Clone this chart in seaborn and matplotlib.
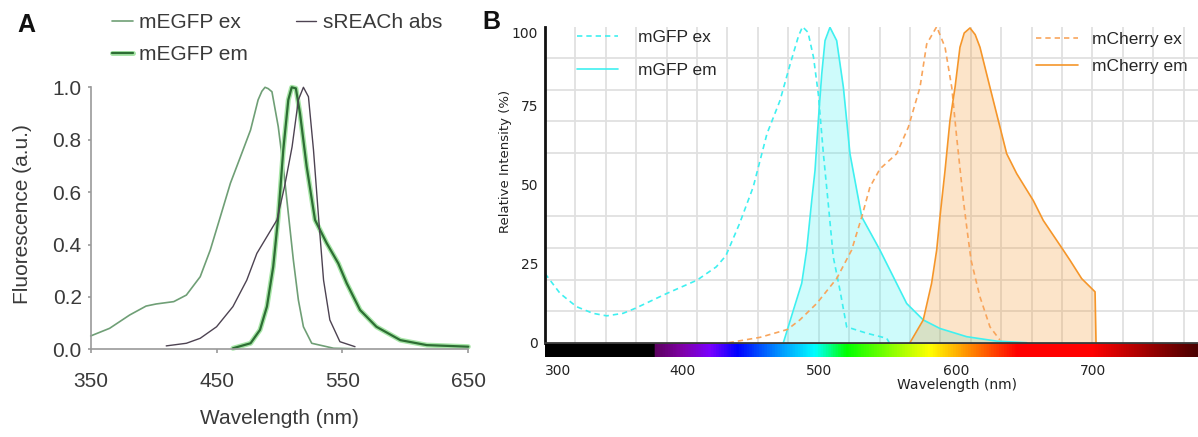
import numpy as np
import matplotlib
matplotlib.use("Agg")
import matplotlib.pyplot as plt
import matplotlib.patheffects as pe
from matplotlib.colors import LinearSegmentedColormap
import seaborn as sns

# ---- panel A data ----
mEGFP_ex_nm = [350, 365, 381, 394, 402, 416, 426, 437, 445, 453, 461, 469, 477, 483,
               486, 488.5, 491, 494, 499, 503, 507, 511, 515, 519, 525.6, 543, 560]
mEGFP_ex = [0.051, 0.08, 0.131, 0.165, 0.173, 0.182, 0.207, 0.277, 0.379, 0.506, 0.634,
            0.735, 0.837, 0.952, 0.985, 1.0, 0.995, 0.983, 0.85, 0.697, 0.519, 0.341,
            0.188, 0.086, 0.023, 0.004, 0.002]

mEGFP_em_nm = [463, 477, 484.5, 490, 495, 499, 503, 507, 509.7, 513, 516.3, 521.6, 528.2,
               537.5, 546.7, 553.4, 564, 577, 596, 617, 650]
mEGFP_em = [0.004, 0.023, 0.074, 0.163, 0.315, 0.506, 0.761, 0.952, 1.0, 0.996, 0.9, 0.697,
            0.494, 0.405, 0.328, 0.252, 0.15, 0.086, 0.035, 0.016, 0.01]

sREACh_nm = [410, 426, 437, 450, 463, 474, 482, 490, 498, 504, 510, 515, 519, 523, 527,
             531, 535, 540, 548, 560]
sREACh_abs = [0.013, 0.023, 0.042, 0.086, 0.163, 0.264, 0.366, 0.43, 0.494, 0.621, 0.773,
              0.952, 1.0, 0.964, 0.761, 0.506, 0.264, 0.112, 0.029, 0.01]

# ---- panel B data ----
mGFP_ex_nm = [300, 311, 323, 335, 345, 357, 366, 389, 411, 425, 432, 442, 452, 462, 471.5,
              479, 485, 488, 492, 496, 499.5, 503.2, 507, 510.4, 515.3, 520.2, 534.8, 549.4, 551.3]
mGFP_ex = [21.9, 15.6, 11.4, 9.3, 8.5, 9.3, 10.9, 15.6, 19.8, 24, 27.5, 37.7, 49.3, 66.1, 76.6,
           88.2, 97, 100, 98.2, 90.3, 78.7, 59.8, 42.9, 27.2, 16.6, 5.0, 3.0, 1.4, 0]

mGFP_em_nm = [474, 481.3, 487.4, 491, 494.7, 497.1, 499.5, 502, 504.4, 508, 512.9, 517.8,
              522.6, 531.2, 544.5, 564, 576.1, 588.3, 607.8, 629.7, 651.6]
mGFP_em = [0, 10.3, 18.8, 29.3, 45, 54.5, 70.3, 85, 95.6, 99.8, 95.6, 80.8, 59.8, 39.8, 29.3,
           12.4, 7.2, 4.5, 1.9, 0.5, 0]

mCherry_ex_nm = [434, 457, 471.5, 477, 486, 498.3, 512.9, 523.8, 531.2, 537.2, 544.5, 556.7,
                 565.2, 573.7, 578.6, 585.9, 592, 596.9, 600.5, 605.4, 608, 611, 617.5, 624.8, 632]
mCherry_ex = [0, 1.7, 3.5, 4.2, 7.2, 12.4, 20.3, 29.3, 39.8, 49.3, 55, 59.8, 68.2, 80.8, 94.5,
              100, 93.5, 80.8, 65, 45, 36, 26.1, 14.5, 5, 0.9]

mCherry_em_nm = [566.4, 576.1, 582.2, 585.9, 588.3, 592, 595.6, 599.3, 602.9, 606, 610.2, 614,
                 617.5, 624.8, 637, 644.3, 656.4, 663.7, 678.3, 683.2, 691.7, 701.5, 702.2]
mCherry_em = [0, 7.2, 18.8, 29.3, 39.8, 54.5, 70.3, 80.8, 93.5, 98, 99.6, 97.5, 93.5, 80.8,
              59.8, 53.5, 45, 38.7, 29.3, 26.1, 20.3, 16.1, 0]

# colour stops of the spectrum strip under panel B
spec_nm = [300, 379.5, 380, 400, 420, 440, 470, 497, 520, 581, 645, 700, 777]
spec_colors = ["#000000", "#000000", "#5c0060", "#8000a8", "#7a00ff", "#0000ff", "#0090ff",
               "#00ffff", "#00ff00", "#ffff00", "#ff0000", "#ff0000", "#4a0000"]

a_xticks = [350, 450, 550, 650]
a_yticks = [0.0, 0.2, 0.4, 0.6, 0.8, 1.0]
b_xticks = [300, 400, 500, 600, 700]
b_yticks = [0, 25, 50, 75, 100]

sns.set_theme(style="white")
W, H = 1198, 437
fig = plt.figure(figsize=(W / 100, H / 100), dpi=100)

def fx(px):
    return px / W

def fy(py):
    return 1 - py / H

ARIAL = "Liberation Sans"
GRAY_TXT = "#3a3a3a"

# ================= panel A =================
axA = fig.add_axes([fx(90.7), fy(349.3), (468.3 - 90.7) / W, 262 / H])
sns.lineplot(x=mEGFP_ex_nm, y=mEGFP_ex, ax=axA, color="#6f9f76", lw=1.2,
             estimator=None, label="mEGFP ex", clip_on=False)
h_ex = axA.lines[-1]
sns.lineplot(x=mEGFP_em_nm, y=mEGFP_em, ax=axA, color="#2d6e34", lw=1.6,
             estimator=None, label="mEGFP em", clip_on=False,
             path_effects=[pe.Stroke(linewidth=3.6, foreground="#a8e6a8"), pe.Normal()])
h_em = axA.lines[-1]
sns.lineplot(x=sREACh_nm, y=sREACh_abs, ax=axA, color="#4d4352", lw=1.0,
             estimator=None, label="sREACh abs", clip_on=False)
h_abs = axA.lines[-1]

axA.set_xlim(350, 650)
axA.set_ylim(0, 1.0)
axA.set_xticks(a_xticks)
axA.set_yticks(a_yticks)
axA.set_yticklabels([f"{v:.1f}" for v in a_yticks])
for s in ["top", "right"]:
    axA.spines[s].set_visible(False)
for s in ["left", "bottom"]:
    axA.spines[s].set_color("#9a9a9a")
    axA.spines[s].set_linewidth(1.2)
axA.spines["left"].set_bounds(0, 1)
axA.spines["bottom"].set_bounds(350, 650)
axA.tick_params(axis="x", length=3, width=1.2, color="#9a9a9a", pad=13,
                labelsize=15, labelcolor=GRAY_TXT)
axA.tick_params(axis="y", length=2.5, width=1.2, color="#9a9a9a", pad=4,
                labelsize=15, labelcolor=GRAY_TXT)
axA.tick_params(left=True, bottom=True)
for lbl in axA.get_xticklabels() + axA.get_yticklabels():
    lbl.set_family(ARIAL)
axA.set_xlabel("Wavelength (nm)", fontsize=15, family=ARIAL, color=GRAY_TXT, va="center")
axA.xaxis.set_label_coords(0.5, -0.266)
axA.set_ylabel("Fluorescence (a.u.)", fontsize=15, family=ARIAL, color=GRAY_TXT, va="center")
axA.yaxis.set_label_coords(-0.181, 0.516)
axA.grid(False)
axA.legend_.remove()
legA = fig.legend(handles=[h_ex, h_em, h_abs], labels=["mEGFP ex", "mEGFP em", "sREACh abs"],
                  ncol=2, loc="upper left", bbox_to_anchor=(fx(111.7), fy(13)),
                  frameon=False, borderpad=0, borderaxespad=0, handlelength=1.0,
                  handletextpad=0.3, columnspacing=2.3, labelspacing=0.62,
                  prop={"family": ARIAL, "size": 15})
for t in legA.get_texts():
    t.set_color(GRAY_TXT)

# ================= panel B =================
xmax_b = 300 + (W - 545) / 1.37
axB = fig.add_axes([fx(545), fy(342.7), (W - 545) / W, 316 / H])
CYAN = "#3ff0f0"
ORANGE = "#f5962a"
ORANGE_L = "#f8a55c"
dash = (0, (3.2, 2.4))

axB.fill_between(mGFP_em_nm, mGFP_em, color=CYAN, alpha=0.25, lw=0)
axB.fill_between(mCherry_em_nm, mCherry_em, color=ORANGE, alpha=0.25, lw=0)
sns.lineplot(x=mGFP_ex_nm, y=mGFP_ex, ax=axB, color=CYAN, lw=1.2, linestyle=dash,
             estimator=None, label="mGFP ex")
hb1 = axB.lines[-1]
sns.lineplot(x=mGFP_em_nm, y=mGFP_em, ax=axB, color=CYAN, lw=1.2,
             estimator=None, label="mGFP em")
hb2 = axB.lines[-1]
sns.lineplot(x=mCherry_ex_nm, y=mCherry_ex, ax=axB, color=ORANGE_L, lw=1.2, linestyle=dash,
             estimator=None, label="mCherry ex")
hb3 = axB.lines[-1]
sns.lineplot(x=mCherry_em_nm, y=mCherry_em, ax=axB, color=ORANGE, lw=1.2,
             estimator=None, label="mCherry em")
hb4 = axB.lines[-1]
axB.legend_.remove()

axB.set_xlim(300, xmax_b)
axB.set_ylim(0, 100)
axB.set_xticks(b_xticks)
axB.set_xticklabels([str(v) for v in b_xticks])
axB.set_yticks(b_yticks)
axB.set_yticklabels([str(v) for v in b_yticks])
axB.set_xticks(np.arange(300 + 22.2, xmax_b, 22.2), minor=True)
axB.set_yticks(np.arange(10, 101, 10), minor=True)
axB.grid(False)
axB.grid(which="minor", color="#e0e0e0", lw=1.3)
axB.set_axisbelow(True)
axB.tick_params(which="both", length=0)
axB.tick_params(axis="x", pad=15, labelsize=10, labelcolor="#222222")
axB.tick_params(axis="y", pad=5, labelsize=10, labelcolor="#222222")
axB.get_xticklabels()[0].set_ha("left")
axB.get_yticklabels()[-1].set_va("top")
for s in ["top", "right"]:
    axB.spines[s].set_visible(False)
axB.spines["left"].set_color("#111111")
axB.spines["left"].set_linewidth(2.0)
axB.spines["bottom"].set_color("#3a3a3a")
axB.spines["bottom"].set_linewidth(2.0)
axB.set_xlabel("Wavelength (nm)", fontsize=10, color="#222222", va="center")
axB.xaxis.set_label_coords(0.631, -0.134)
axB.set_ylabel("Relative Intensity (%)", fontsize=9.5, color="#222222", va="center")
axB.yaxis.set_label_coords(-0.061, 0.573)

legB1 = axB.legend(handles=[hb1, hb2], labels=["mGFP ex", "mGFP em"], loc="upper left",
                   bbox_to_anchor=(fx(576.7), fy(30)), bbox_transform=fig.transFigure,
                   frameon=False, borderpad=0, borderaxespad=0, handlelength=2.4,
                   handletextpad=1.15, labelspacing=1.0, prop={"family": ARIAL, "size": 12.5})
axB.add_artist(legB1)
legB2 = axB.legend(handles=[hb3, hb4], labels=["mCherry ex", "mCherry em"], loc="upper left",
                   bbox_to_anchor=(fx(1036), fy(32)), bbox_transform=fig.transFigure,
                   frameon=False, borderpad=0, borderaxespad=0, handlelength=2.4,
                   handletextpad=0.8, labelspacing=0.7, prop={"family": ARIAL, "size": 12.5})

# spectrum strip
axS = fig.add_axes([fx(545), fy(357.3), (W - 545) / W, 13.8 / H])
pos = [(v - 300) / (xmax_b - 300) for v in spec_nm]
pos[-1] = 1.0
spec_cmap = LinearSegmentedColormap.from_list("spec", list(zip(pos, spec_colors)))
axS.imshow(np.linspace(0, 1, 1000)[None, :], cmap=spec_cmap, aspect="auto",
           extent=(300, xmax_b, 0, 1))
axS.set_axis_off()

fig.text(fx(26), fy(25), "A", fontsize=18, fontweight="bold", family=ARIAL,
         ha="center", va="center", color="#111111")
fig.text(fx(491), fy(21.7), "B", fontsize=18, fontweight="bold", family=ARIAL,
         ha="center", va="center", color="#111111")

fig.savefig("out.png", dpi=100, facecolor="white")
